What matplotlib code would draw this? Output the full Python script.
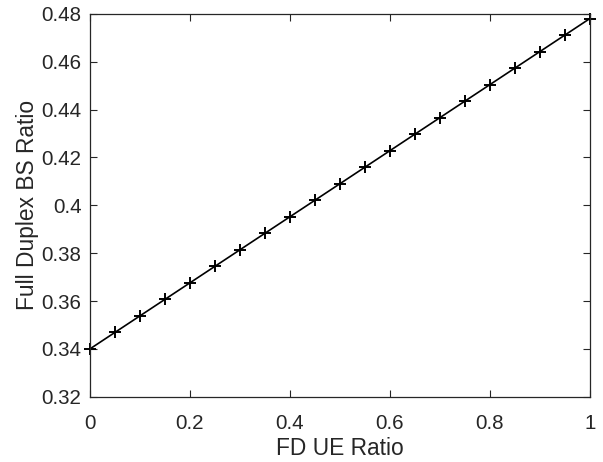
import matplotlib
matplotlib.use('Agg')
import matplotlib.pyplot as plt

plt.rcParams['font.family'] = ['Liberation Sans', 'DejaVu Sans']

fd_ue_ratio = [0.0, 0.05, 0.1, 0.15, 0.2, 0.25, 0.3, 0.35, 0.4, 0.45, 0.5,
               0.55, 0.6, 0.65, 0.7, 0.75, 0.8, 0.85, 0.9, 0.95, 1.0]
fd_bs_ratio = [0.3400, 0.3469, 0.3538, 0.3607, 0.3676, 0.3745, 0.3814,
               0.3883, 0.3952, 0.4021, 0.4090, 0.4159, 0.4228, 0.4297,
               0.4366, 0.4435, 0.4504, 0.4573, 0.4642, 0.4711, 0.4780]
xticks = [0, 0.2, 0.4, 0.6, 0.8, 1]
yticks = [0.32, 0.34, 0.36, 0.38, 0.4, 0.42, 0.44, 0.46, 0.48]

fig = plt.figure(figsize=(6.03, 4.62), dpi=100)
ax = fig.add_axes([0.149, 0.141, 0.829, 0.829])
ax.plot(fd_ue_ratio, fd_bs_ratio, color='black', lw=1.2, marker='+',
        markersize=9, markeredgewidth=1.4, clip_on=False)
ax.set_xlim(0, 1)
ax.set_ylim(0.32, 0.48)
ax.set_xticks(xticks)
ax.set_xticklabels(['0', '0.2', '0.4', '0.6', '0.8', '1'])
ax.set_yticks(yticks)
ax.set_yticklabels(['0.32', '0.34', '0.36', '0.38', '0.4', '0.42', '0.44', '0.46', '0.48'])
ax.tick_params(direction='in', top=True, right=True, labelsize=14.8,
               colors='#262626', length=5, width=0.8)
ax.tick_params(axis='x', pad=12)
ax.tick_params(axis='y', pad=6)
for s in ax.spines.values():
    s.set_color('#262626')
    s.set_linewidth(0.9)
ax.set_xlabel('FD UE Ratio', fontsize=16.4, color='#262626', labelpad=3)
ax.set_ylabel('Full Duplex BS Ratio', fontsize=16.4, color='#262626', labelpad=2)
fig.savefig('out.png', dpi=100)
